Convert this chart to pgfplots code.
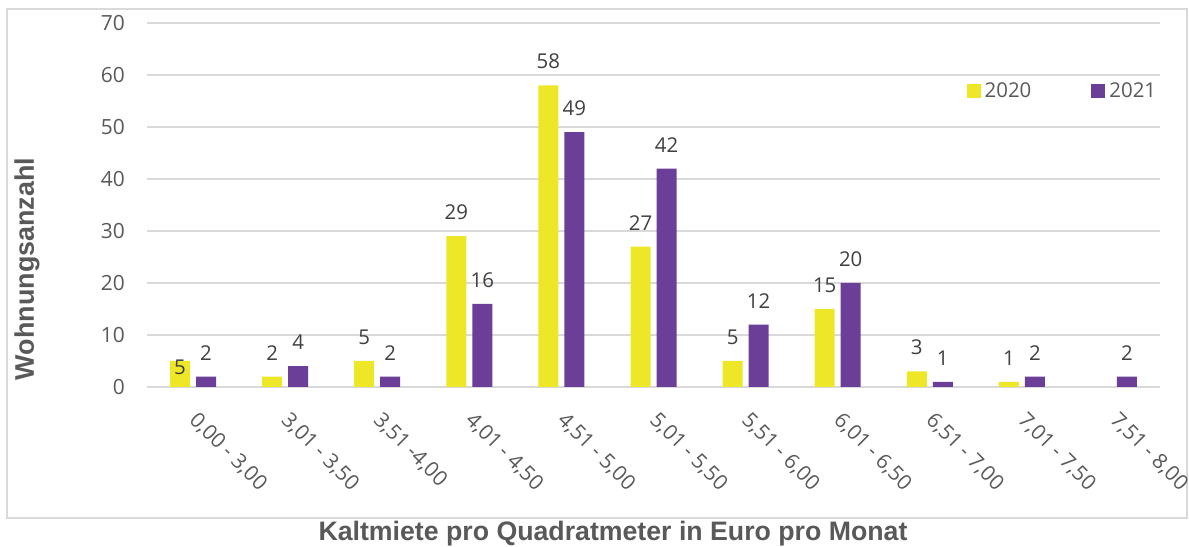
\documentclass[border=0pt]{standalone}
\usepackage{pgfplots}
\usepackage{pgfplotstable}
\pgfplotsset{compat=1.18}
\usepackage{fontspec}
\setmainfont{Open Sans}
\newfontfamily\titlefont{Liberation Sans}
\definecolor{yel}{RGB}{237,231,40}
\definecolor{pur}{RGB}{107,63,152}
\definecolor{gridc}{RGB}{217,217,217}
\definecolor{txt}{RGB}{89,89,89}
\definecolor{lab}{RGB}{64,64,64}
\pgfplotstableread{
x y dy
0 5 -14
1 2 16
2 5 16
3 29 16
4 58 16
5 27 16
6 5 16
7 15 16
8 3 16
9 1 16
}\dataA
\pgfplotstableread{
x y dy
0 2 16
1 4 16
2 2 16
3 16 16
4 49 16
5 42 16
6 12 16
7 20 16
8 1 16
9 2 16
10 2 16
}\dataB
\begin{document}
\begin{tikzpicture}[x=1bp,y=1bp]
\useasboundingbox (0,0) rectangle (1189,547);
\fill[white] (0,0) rectangle (1189,547);
\draw[gridc, line width=1.5bp] (7,29) rectangle (1187,538);
\node[font=\titlefont\bfseries\fontsize{26.8}{30}\selectfont, text=txt] at (613,13) {Kaltmiete pro Quadratmeter in Euro pro Monat};
\node[font=\titlefont\bfseries\fontsize{27}{30}\selectfont, text=txt, rotate=90] at (27,278) {Wohnungsanzahl};
\begin{axis}[
  at={(147bp,160bp)}, anchor=south west,
  scale only axis, width=1013bp, height=364bp,
  ybar, bar width=20bp,
  xmin=-0.5, xmax=10.5, ymin=0, ymax=70,
  ytick={0,10,...,70},
  xtick={0,...,10},
  xticklabels={{0,00 - 3,00},{3,01 - 3,50},{3,51 -4,00},{4,01 - 4,50},{4,51 - 5,00},{5,01 - 5,50},{5,51 - 6,00},{6,01 - 6,50},{6,51 - 7,00},{7,01 - 7,50},{7,51 - 8,00}},
  major tick length=0pt,
  axis y line*=left, y axis line style={draw=none},
  axis x line*=bottom, x axis line style={draw=gridc, line width=1.5bp},
  ymajorgrids, grid style={gridc, line width=1.2bp},
  tick label style={font=\fontsize{21}{24}\selectfont, text=txt},
  /pgf/number format/assume math mode=true,
  yticklabel style={anchor=east, inner sep=0pt, xshift=-22bp},
  xticklabel style={anchor=north west, inner sep=0pt, xshift=6bp, yshift=-23bp, rotate=-45},
  nodes near coords,
  visualization depends on={\thisrow{dy} \as \labdy},
  nodes near coords style={font=\fontsize{20.5}{23}\selectfont, text=lab, anchor=south, inner sep=0pt, yshift=\labdy bp},
  legend columns=2,
  legend style={draw=none, fill=none, at={(0.806,0.813)}, anchor=west, font=\fontsize{20.5}{23}\selectfont, text=txt,
    /tikz/every even column/.append style={column sep=56bp},
    /tikz/every node/.append style={inner xsep=4bp}},
  legend image code/.code={\fill[#1] (0bp,-7bp) rectangle (14bp,7bp);},
  clip=false,
]
\addplot[fill=yel, draw=none, bar shift=-13bp] table[x=x, y=y] {\dataA};
\addplot[fill=pur, draw=none, bar shift=13bp] table[x=x, y=y] {\dataB};
\legend{2020,2021}
\end{axis}
\end{tikzpicture}
\end{document}
